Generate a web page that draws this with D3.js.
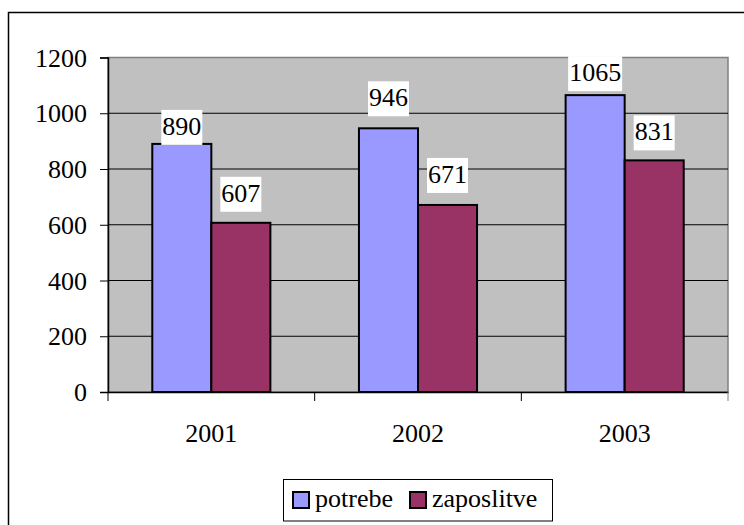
<!DOCTYPE html>
<html>
<head>
<meta charset="UTF-8">
<script src="https://d3js.org/d3.v7.min.js"></script>
<style>
    text { font-family: "Liberation Serif", "Times New Roman", serif; }
</style>
</head>
<body style="margin:0">
<script>
    // data
    const years = ["2001", "2002", "2003"];
    const seriesNames = ["potrebe", "zaposlitve"];
    const potrebe = [890, 946, 1065];
    const zaposlitve = [607, 671, 831];
    const yTicks = [0, 200, 400, 600, 800, 1000, 1200];

    const colors = ["#9999ff", "#993366"];
    const FONT = "Liberation Serif";
    // hand placed label nudges (px) as in the original sheet
    const labelNudge = [[-1, 12, 4], [11, 12, 10]];

    const W = 744, H = 525;
    const plot = { left: 108, top: 57.5, right: 728, bottom: 392 };

    const svg = d3.select("body").append("svg")
        .attr("width", W).attr("height", H);

    // outer frame
    svg.append("rect")
        .attr("x", 8.5).attr("y", 12.5)
        .attr("width", W).attr("height", H)
        .attr("fill", "none").attr("stroke", "#000").attr("stroke-width", 1.5);

    const x0 = d3.scaleBand().domain(years).range([plot.left, plot.right]);
    const barW = x0.bandwidth() / 3.5;
    const x1 = d3.scaleBand().domain(seriesNames)
        .range([x0.bandwidth() / 2 - barW, x0.bandwidth() / 2 + barW]);
    const y = d3.scaleLinear().domain([0, 1200]).range([plot.bottom, plot.top]);

    // plot area
    svg.append("rect")
        .attr("x", plot.left).attr("y", plot.top)
        .attr("width", plot.right - plot.left).attr("height", plot.bottom - plot.top)
        .attr("fill", "#c0c0c0").attr("stroke", "#808080").attr("stroke-width", 1.5);

    // grid
    svg.append("g").selectAll("line")
        .data(yTicks.filter(d => d > 0 && d < 1200))
        .enter().append("line")
        .attr("x1", plot.left).attr("x2", plot.right)
        .attr("y1", d => y(d)).attr("y2", d => y(d))
        .attr("stroke", "#000").attr("stroke-width", 1);

    // bars
    const rows = years.map((yr, i) => ({ year: yr, values: [potrebe[i], zaposlitve[i]] }));
    const groups = svg.append("g").selectAll("g")
        .data(rows).enter().append("g")
        .attr("transform", d => `translate(${x0(d.year)},0)`);

    groups.selectAll("rect")
        .data(d => d.values.map((v, s) => ({ v, s })))
        .enter().append("rect")
        .attr("x", d => x1(seriesNames[d.s]))
        .attr("width", x1.bandwidth())
        .attr("y", d => y(d.v))
        .attr("height", d => y(0) - y(d.v))
        .attr("fill", d => colors[d.s])
        .attr("stroke", "#000").attr("stroke-width", 2);

    // axes (lines from d3.axis, labels drawn below from the same scales)
    const yAxis = svg.append("g")
        .attr("transform", `translate(${plot.left},0)`)
        .call(d3.axisLeft(y).tickValues(yTicks).tickFormat("").tickSize(8));
    yAxis.select(".domain").attr("stroke", "#000").attr("stroke-width", 1.5);
    yAxis.selectAll(".tick line").attr("stroke", "#000");
    yAxis.selectAll("text").remove();

    const xAxis = svg.append("g")
        .attr("transform", `translate(0,${plot.bottom})`)
        .call(d3.axisBottom(x0).tickSize(0).tickFormat(""));
    xAxis.select(".domain").attr("stroke", "#000").attr("stroke-width", 1.5);
    xAxis.selectAll("text").remove();

    yTicks.forEach(t => {
        svg.append("text")
            .attr("x", plot.left - 21).attr("y", y(t) + 9)
            .attr("text-anchor", "end")
            .attr("font-family", FONT).attr("font-size", 26)
            .text(d3.format("d")(t));
    });
    years.forEach(yr => {
        svg.append("text")
            .attr("x", x0(yr) + x0.bandwidth() / 2).attr("y", plot.bottom + 50)
            .attr("text-anchor", "middle")
            .attr("font-family", FONT).attr("font-size", 26)
            .text(yr);
    });

    // category separator ticks
    svg.append("g").selectAll("line")
        .data(years.concat(["end"]))
        .enter().append("line")
        .attr("x1", (d, i) => plot.left + i * x0.step())
        .attr("x2", (d, i) => plot.left + i * x0.step())
        .attr("y1", plot.bottom).attr("y2", plot.bottom + 9)
        .attr("stroke", (d, i) => i === years.length ? "#808080" : "#000");

    // value labels
    rows.forEach((r, i) => {
        r.values.forEach((v, s) => {
            const cx = x0(r.year) + x1(seriesNames[s]) + x1.bandwidth() / 2;
            const base = y(v) - labelNudge[s][i];
            const txt = String(v);
            const bw = txt.length * 13 + 2;
            svg.append("rect")
                .attr("x", cx - bw / 2).attr("y", base - 35)
                .attr("width", bw).attr("height", 35)
                .attr("fill", "#fff");
            svg.append("text")
                .attr("x", cx).attr("y", base - 10)
                .attr("text-anchor", "middle")
                .attr("font-family", FONT).attr("font-size", 26)
                .text(txt);
        });
    });

    // legend
    svg.append("rect")
        .attr("x", 283.5).attr("y", 479.5).attr("width", 269).attr("height", 41.5)
        .attr("fill", "#fff").attr("stroke", "#000").attr("stroke-width", 1);
    const legendX = [293, 410];
    seriesNames.forEach((name, s) => {
        svg.append("rect")
            .attr("x", legendX[s]).attr("y", 492)
            .attr("width", 16).attr("height", 16)
            .attr("fill", colors[s]).attr("stroke", "#000").attr("stroke-width", 2);
        svg.append("text")
            .attr("x", legendX[s] + 22).attr("y", 507)
            .attr("font-family", FONT).attr("font-size", 26)
            .text(name);
    });
</script>
</body>
</html>
